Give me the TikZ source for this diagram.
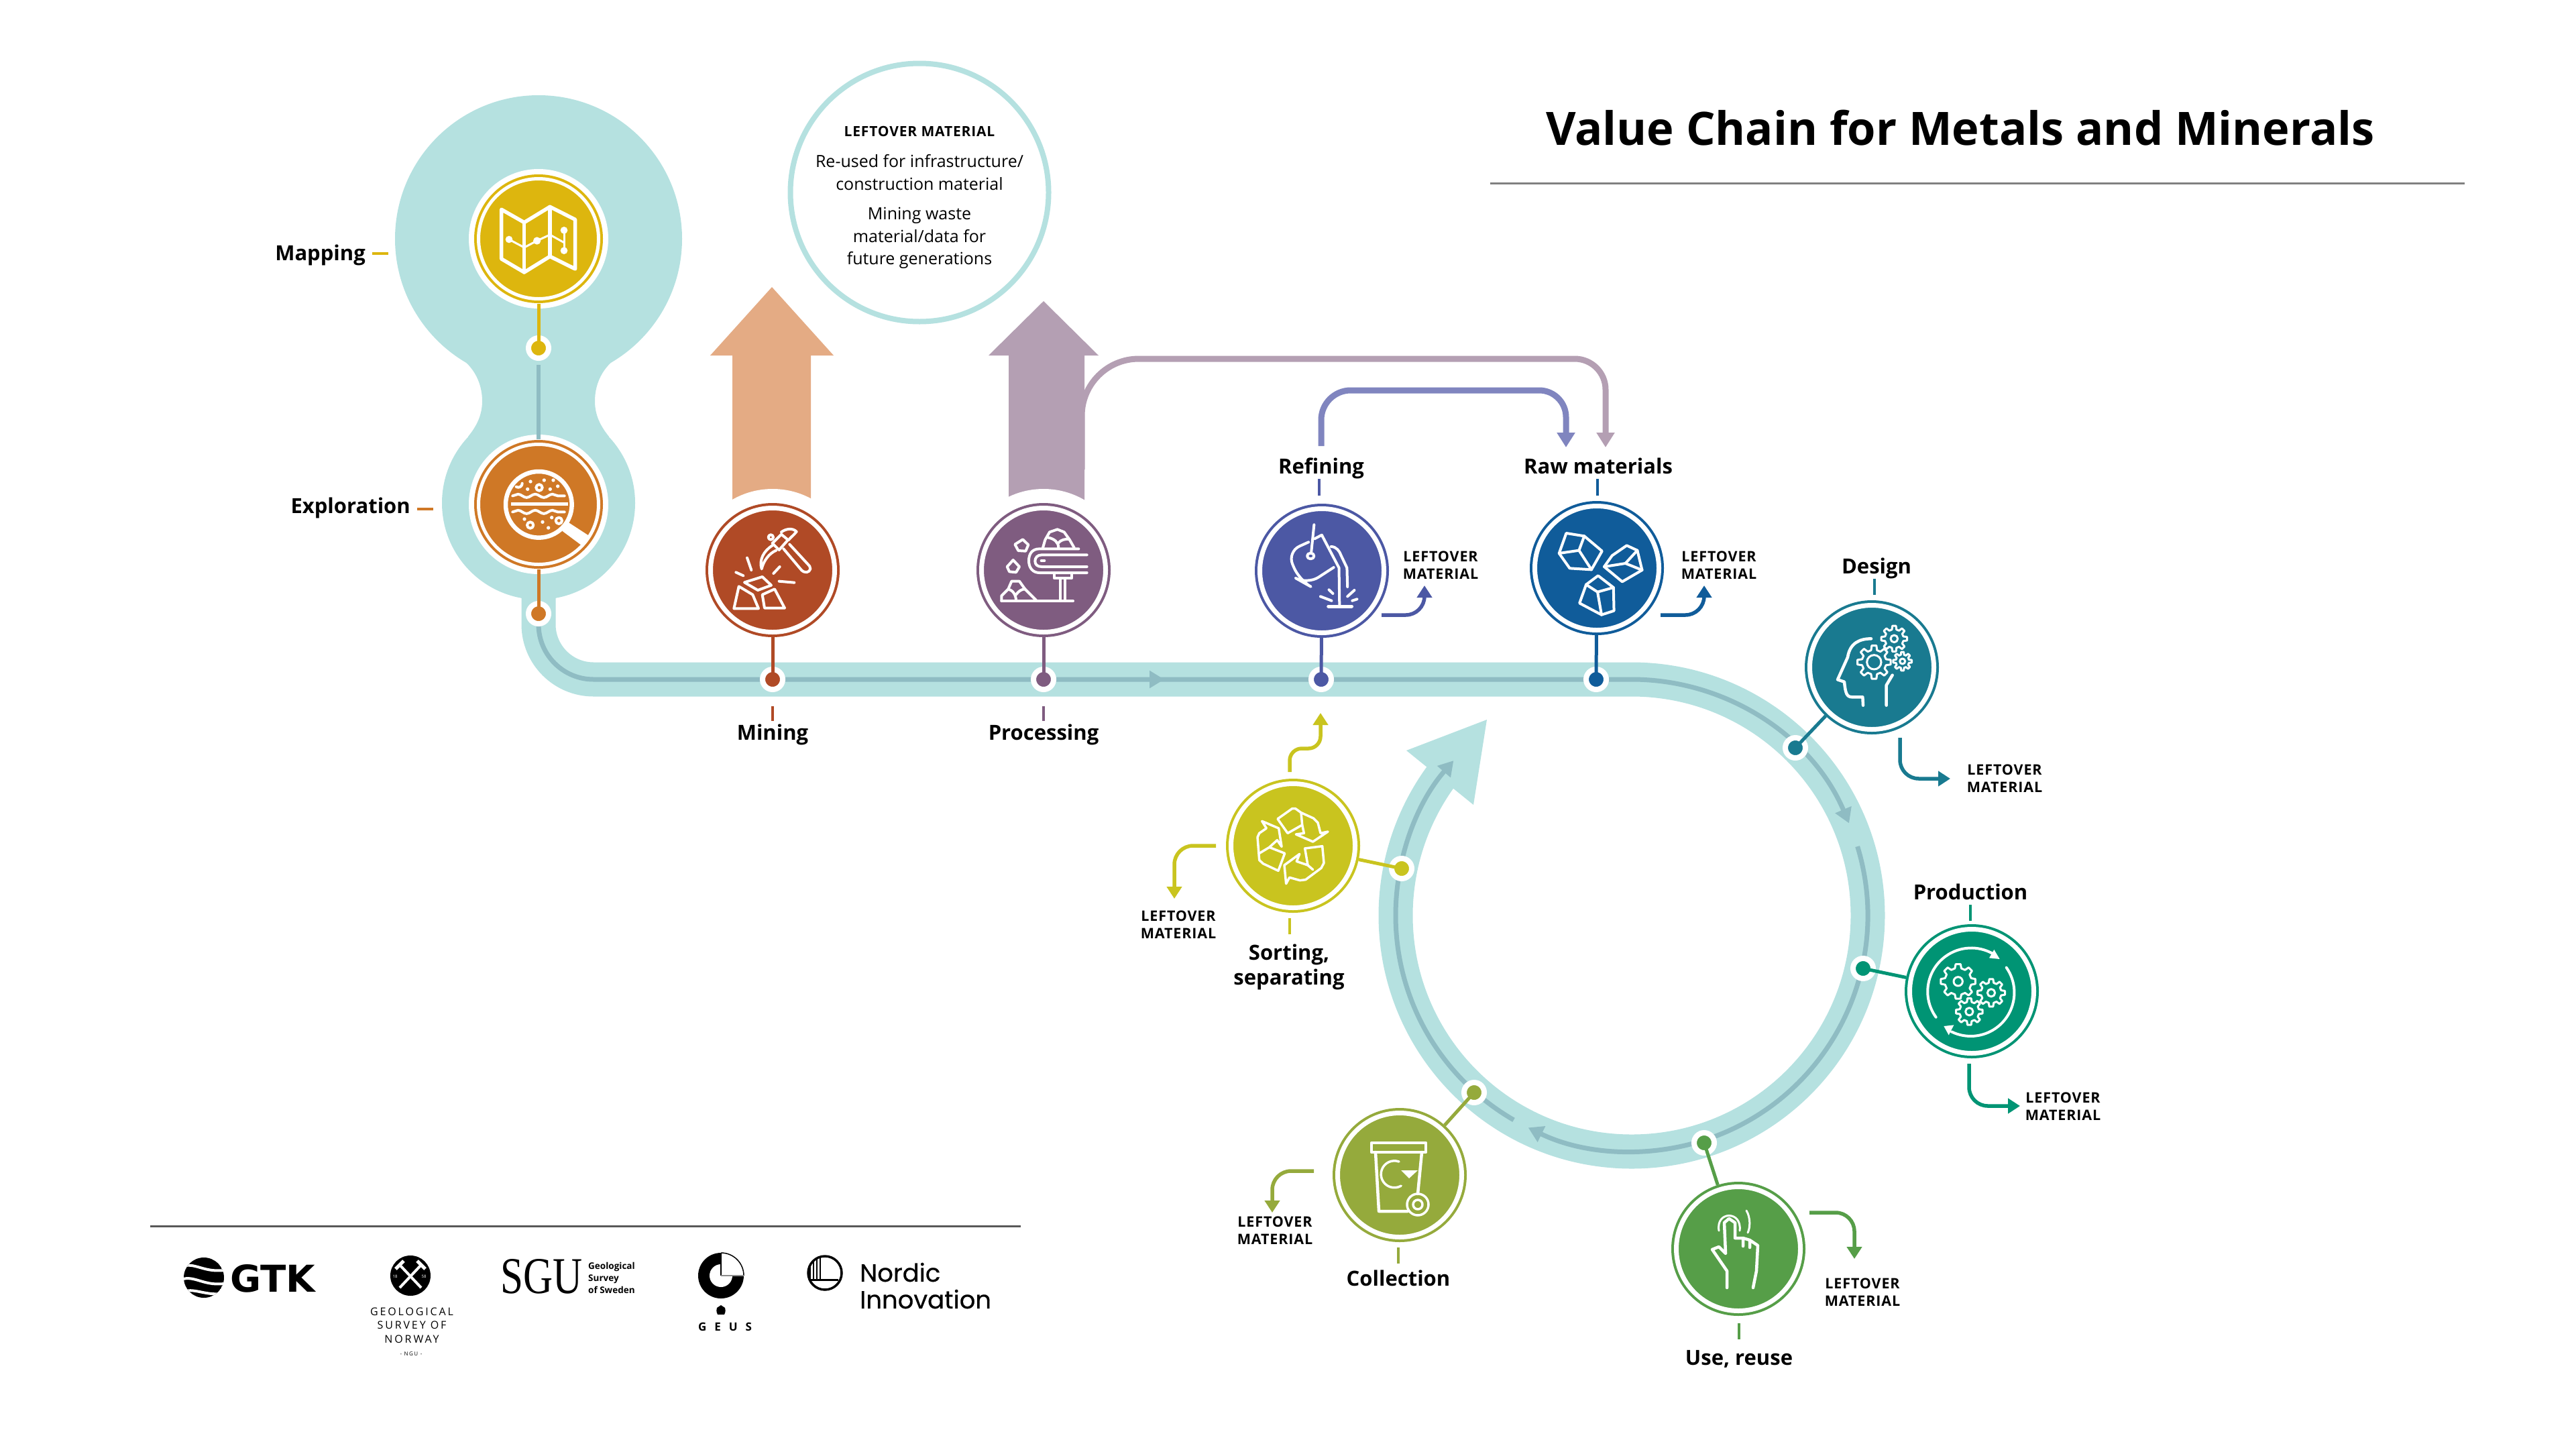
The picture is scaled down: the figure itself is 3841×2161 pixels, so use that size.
\documentclass[tikz,border=0pt]{standalone}
\usepackage{fontspec}
\setmainfont{Open Sans}
\newfontfamily\logofont[FakeBold=0.5]{Poppins}
\newfontfamily\serifont{Liberation Serif}
\newfontfamily\heavyfont{DejaVu Sans}
\newfontfamily\spacedfont[LetterSpace=4]{Open Sans}
\usetikzlibrary{arrows.meta}
\usetikzlibrary{decorations.pathmorphing}
\definecolor{bandcol}{HTML}{B5E1E0}
\definecolor{flowcol}{HTML}{8FBCC3}
\definecolor{mapcol}{HTML}{DDB60E}
\definecolor{explorecol}{HTML}{CF7826}
\definecolor{minecol}{HTML}{B04A26}
\definecolor{proccol}{HTML}{7F5C80}
\definecolor{refinecol}{HTML}{4C58A4}
\definecolor{rawcol}{HTML}{105C9A}
\definecolor{designcol}{HTML}{197A90}
\definecolor{prodcol}{HTML}{009474}
\definecolor{usecol}{HTML}{569E48}
\definecolor{collectcol}{HTML}{95AA3C}
\definecolor{sortcol}{HTML}{C9C41F}
\definecolor{minearrow}{HTML}{E4AB84}
\definecolor{procarrow}{HTML}{B49FB3}
\definecolor{refinearrow}{HTML}{8085BF}
\tikzset{
  stage/.style={circle,fill=#1,draw=#1,double=white,line width=4pt,double distance=7pt,minimum size=185pt,inner sep=0pt,outer sep=7.5pt},
  railstop/.style={circle,fill=#1,draw=white,line width=8pt,minimum size=30pt,inner sep=0pt,outer sep=0pt},
  link/.style={draw=#1,line width=5pt},
  tick/.style={draw=#1,line width=4pt},
  band/.style={draw=bandcol,line width=51pt},
  flowline/.style={draw=flowcol,line width=7pt},
  flowtip/.style={-{Triangle[length=22pt,width=25pt,fill=flowcol]}},
  stagelab/.style={font=\fontsize{31}{37}\selectfont\bfseries,text height=26.5pt,text depth=5.5pt,inner sep=0pt},
  leftlab/.style={font=\fontsize{21.5}{26}\selectfont\spacedfont\bfseries,align=center,inner sep=0pt},
  leftarrow/.style={draw=#1,line width=5.5pt,rounded corners=28pt,-{Triangle[length=18pt,width=22pt,fill=#1]}},
  feedback/.style={draw=#1,line width=9pt,-{Triangle[length=22pt,width=26pt,fill=#1]}},
  icon/.style 2 args={shift={(#1,#2)},scale=1/3,white,line width=3.5pt,line join=round,line cap=round},
}
\newcommand{\gearicon}[5]{
  \begin{scope}[shift={(#1,#2)}]
    \draw (8:#4) \foreach \a in {0,45,...,315} { -- (\a+8:#4) -- (\a+14:#3) -- (\a+31:#3) -- (\a+37:#4) } -- cycle;
    \draw (0,0) circle[radius=#5];
  \end{scope}
}
\begin{document}
\begin{tikzpicture}[x=1pt,y=-1pt]
\useasboundingbox (0,0) rectangle (3841,2161);

% big arrows
\fill[minearrow] (1151,428) -- (1243,530) -- (1209,530) -- (1209,770) -- (1092,770) -- (1092,530) -- (1059,530) -- cycle;
\fill[procarrow] (1556,449) -- (1638,530) -- (1617,530) -- (1617,770) -- (1504,770) -- (1504,530) -- (1474,530) -- cycle;
\fill[white] (1152,850) circle[radius=121];
\fill[white] (1556,850) circle[radius=121];

% the blob and the band
\fill[bandcol] (803,356) circle[radius=214];
\fill[bandcol] (803,750) circle[radius=144];
\fill[bandcol] (686,533) .. controls (712,552) and (719,578) .. (719,598) .. controls (719,620) and (710,636) .. (698,651)
  -- (908,651) .. controls (896,636) and (887,620) .. (887,598) .. controls (887,578) and (894,552) .. (920,533) -- cycle;
\draw[band] (803,880) -- (803,931) arc[start angle=180,end angle=90,radius=82] -- (2433,1013) arc[start angle=270,end angle=578,radius=352];
\fill[bandcol] (2217,1073) -- (2097,1119) -- (2197,1200) -- cycle;

% flow line
\draw[flowline,flowtip] (803,915) -- (803,931) arc[start angle=180,end angle=90,radius=82] -- (1736,1013);
\draw[flowline,flowtip] (1730,1013) -- (2433,1013) arc[start angle=270,end angle=337,radius=352];
\draw[flowline,flowtip] (2433,1365) ++(343:352) arc[start angle=343,end angle=476,radius=352];
\draw[flowline,flowtip] (2433,1365) ++(120:352) arc[start angle=120,end angle=221,radius=352];

\node[railstop=mapcol] (mappingstop) at (803,519) {};
\node[railstop=explorecol] (explorationstop) at (803,915) {};
\node[railstop=minecol] (miningstop) at (1152,1013) {};
\node[railstop=proccol] (processingstop) at (1556,1013) {};
\node[railstop=refinecol] (refiningstop) at (1970,1013) {};
\node[railstop=rawcol] (rawstop) at (2380,1013) {};
\node[railstop=designcol] (designstop) at (2677,1115) {};
\node[railstop=prodcol] (productionstop) at (2778,1444) {};
\node[railstop=usecol] (usestop) at (2541,1704) {};
\node[railstop=collectcol] (collectionstop) at (2198,1629) {};
\node[railstop=sortcol] (sortingstop) at (2090,1295) {};

% stages
\fill[white] (803,356) circle[radius=104];
\fill[white] (803,752) circle[radius=104];
\node[stage=mapcol,minimum size=179pt,double distance=5pt] (mapping) at (803,356) {};
\node[stage=explorecol,minimum size=179pt,double distance=5pt] (exploration) at (803,752) {};
\node[stage=minecol] (mining) at (1152,850) {};
\node[stage=proccol] (processing) at (1556,850) {};
\node[stage=refinecol] (refining) at (1971,851) {};
\node[stage=rawcol] (raw) at (2381,847) {};
\node[stage=designcol] (design) at (2791,995) {};
\node[stage=prodcol] (production) at (2940,1478) {};
\node[stage=usecol] (use) at (2592,1862) {};
\node[stage=collectcol] (collection) at (2087,1752) {};
\node[stage=sortcol] (sorting) at (1928,1261) {};

\draw[link=mapcol] (mapping) -- (mappingstop.center);
\draw[link=explorecol] (exploration) -- (explorationstop.center);
\draw[link=minecol] (mining) -- (miningstop.center);
\draw[link=proccol] (processing) -- (processingstop.center);
\draw[link=refinecol] (refining) -- (refiningstop.center);
\draw[link=rawcol] (raw) -- (rawstop.center);
\draw[link=designcol] (design) -- (designstop.center);
\draw[link=prodcol] (production) -- (productionstop.center);
\draw[link=usecol] (use) -- (usestop.center);
\draw[link=collectcol] (collection) -- (collectionstop.center);
\draw[link=sortcol] (sorting) -- (sortingstop.center);
\draw[flowline,line width=6pt,shorten <=10pt] (mappingstop) -- (exploration);

% labels and their ticks
\node[stagelab,anchor=east] (mappinglab) at (545,378) {Mapping};
\node[stagelab,anchor=east] (explorationlab) at (612,755) {Exploration};
\node[stagelab] (mininglab) at (1152,1092.5) {Mining};
\node[stagelab] (processinglab) at (1556,1092.5) {Processing};
\node[stagelab] (refininglab) at (1970,696) {Refining};
\node[stagelab] (rawlab) at (2383,696) {Raw materials};
\node[stagelab] (designlab) at (2798,845) {Design};
\node[stagelab] (productionlab) at (2938,1331) {Production};
\node[stagelab] (collectionlab) at (2085,1907) {Collection};
\node[stagelab] (uselab) at (2593,2025) {Use, reuse};
\node[font=\fontsize{31}{37}\selectfont\bfseries,anchor=north,align=center,inner sep=0pt] (sortinglab) at (1922,1408) {Sorting,\\separating};

\draw[tick=mapcol] (mappinglab.east) ++(10,0) -- ++(24,0);
\draw[tick=explorecol] (explorationlab.east) ++(10,4) -- ++(24,0);
\draw[tick=minecol] (mininglab.north) ++(0,-1.5) -- ++(0,-22);
\draw[tick=proccol] (processinglab.north) ++(0,-1.5) -- ++(0,-22);
\draw[tick=refinecol] (refininglab.south) ++(-3,2) -- ++(0,25);
\draw[tick=rawcol] (rawlab.south) ++(-1,2) -- ++(0,25);
\draw[tick=designcol] (designlab.south) ++(-3,2) -- ++(0,24);
\draw[tick=prodcol] (productionlab.south) ++(0,2) -- ++(0,24);
\draw[tick=sortcol] (sortinglab.north) ++(1,-15) -- ++(0,-24);
\draw[tick=collectcol] (collectionlab.north) ++(0,-7) -- ++(0,-24);
\draw[tick=usecol] (uselab.north) ++(0,-12) -- ++(0,-24);

% leftover material
\node[leftlab] (refiningleft) at (2148,843) {LEFTOVER\\MATERIAL};
\node[leftlab] (rawleft) at (2563,843) {LEFTOVER\\MATERIAL};
\node[leftlab] (designleft) at (2989,1161) {LEFTOVER\\MATERIAL};
\node[leftlab] (productionleft) at (3076,1650) {LEFTOVER\\MATERIAL};
\node[leftlab] (useleft) at (2777,1927) {LEFTOVER\\MATERIAL};
\node[leftlab] (collectionleft) at (1901,1835) {LEFTOVER\\MATERIAL};
\node[leftlab] (sortingleft) at (1757,1379) {LEFTOVER\\MATERIAL};

\coordinate (refiningout) at (2060,917);
\coordinate (refiningtip) at (2124,873);
\coordinate (rawout) at (2476,917);
\coordinate (rawtip) at (2541,873);
\coordinate (designout) at (2833,1100);
\coordinate (designtip) at (2908,1161);
\coordinate (productionout) at (2936,1586);
\coordinate (productiontip) at (3012,1649);
\coordinate (useout) at (2698,1808);
\coordinate (usetip) at (2765,1877);
\coordinate (collectionout) at (1959,1746);
\coordinate (collectiontip) at (1897,1808);
\coordinate (sortingout) at (1813,1261);
\coordinate (sortingtip) at (1751,1340);
\draw[leftarrow=refinecol] (refiningout) -| (refiningtip);
\draw[leftarrow=rawcol] (rawout) -| (rawtip);
\draw[leftarrow=designcol] (designout) |- (designtip);
\draw[leftarrow=prodcol] (productionout) |- (productiontip);
\draw[leftarrow=usecol] (useout) -| (usetip);
\draw[leftarrow=collectcol] (collectionout) -| (collectiontip);
\draw[leftarrow=sortcol] (sortingout) -| (sortingtip);
\draw[leftarrow=sortcol,rounded corners=18pt] (1923,1151) -- (1923,1116) -- (1969,1116) -- (1969,1063);

% feedback arrows
\coordinate (procout) at (1613,700);
\coordinate (refineout) at (1970,665);
\draw[feedback=procarrow] (procout) -- (1613,620) arc[start angle=180,end angle=270,radius=85] -- (2348,535) arc[start angle=270,end angle=360,radius=46] -- (2394,667);
\draw[feedback=refinearrow] (refineout) -- (1970,626) arc[start angle=180,end angle=270,radius=44] -- (2295,582) arc[start angle=270,end angle=360,radius=40] -- (2335,667);

% bubble
\node[circle,draw=bandcol,line width=8pt,minimum size=385pt,inner sep=0pt] (bubble) at (1371,287) {};
\node[font=\fontsize{25}{33.5}\selectfont,align=center,inner sep=0pt] (bubbletext) at (1371,294.5) {{\fontsize{21}{26}\selectfont\spacedfont\bfseries LEFTOVER MATERIAL}\\[13pt]Re-used for infrastructure/\\construction material\\[11pt]Mining waste\\material/data for\\future generations};

% title
\node[font=\fontsize{68.6}{80}\selectfont\bfseries,inner sep=0pt] (title) at (2923,191) {Value Chain for Metals and Minerals};
\draw[draw=black!50,line width=3pt] (2222,273) -- (3675,273);

% icons
\begin{scope}[icon={700}{250},line width=5.5pt]
  \draw (143,187) -- (245,245) -- (360,175) -- (473,232) -- (473,453) -- (360,397) -- (245,468) -- (143,408) -- cycle;
  \draw (245,245) -- (245,468) (360,175) -- (360,397);
  \draw[line width=3pt] (177,321) -- (245,357) -- (302,327) -- (360,300) -- (423,335);
  \draw[line width=3pt] (423,280) -- (423,371);
  \fill (177,321) circle[radius=16] (302,327) circle[radius=17] (423,280) circle[radius=16] (423,371) circle[radius=16];
\end{scope}

\begin{scope}[icon={700}{650},line width=6.5pt]
  \draw (310,307) circle[radius=148];
  \fill (440,385) -- (540,450) -- (505,492) -- (415,425) -- cycle;
  \draw[line width=4.5pt,line cap=butt] (187,305) -- (440,305);
  \draw[line width=4pt,decorate,decoration={snake,amplitude=2.5pt,segment length=25.7pt}] (193,268) -- (425,268);
  \draw[line width=4pt,decorate,decoration={snake,amplitude=2.5pt,segment length=25.7pt}] (193,340) -- (425,340);
  \fill (273,204) circle[radius=8] (260,238) circle[radius=8] (334,198) circle[radius=8] (361,238) circle[radius=8] (375,198) circle[radius=8] (395,225) circle[radius=8];
  \fill (246,372) circle[radius=8] (327,385) circle[radius=8] (368,365) circle[radius=8] (353,411) circle[radius=8];
  \draw[line width=4pt] (312,231) circle[radius=14] (272,399) circle[radius=14] (400,379) circle[radius=14];
  \draw[line width=4pt] (236,212) arc[start angle=0,end angle=120,radius=18];
\end{scope}

\begin{scope}[icon={1050}{750},line width=4pt]
  \draw (305,180) -- (345,140) -- (375,165) -- (335,210) -- cycle;
  \draw (305,190) .. controls (265,215) and (245,255) .. (257,295) .. controls (265,260) and (290,225) .. (322,212);
  \draw (345,130) .. controls (365,115) and (395,110) .. (413,128) .. controls (400,145) and (385,155) .. (378,165);
  \draw (298,153) circle[radius=11];
  \draw (355,205) -- (435,300) .. controls (450,315) and (470,312) .. (475,295) .. controls (475,285) and (470,280) .. (465,275) -- (382,185);
  \draw (192,245) -- (211,300) (142,310) -- (175,325) (338,285) -- (310,315) (335,350) -- (403,356);
  \draw (180,355) -- (260,330) -- (300,368) -- (240,390) -- cycle;
  \draw (155,373) -- (217,410) -- (243,472) -- (133,472) -- cycle;
  \draw (260,410) -- (315,385) -- (360,470) -- (270,470) -- cycle;
\end{scope}

\begin{scope}[icon={1450}{750},line width=4pt]
  \draw (475,205) -- (300,205) .. controls (265,205) and (252,230) .. (252,258) .. controls (252,290) and (270,312) .. (300,312) -- (512,312);
  \draw (512,232) -- (310,232) .. controls (290,232) and (280,245) .. (280,260) .. controls (280,275) and (290,285) .. (310,285) -- (512,285);
  \draw (308,258) -- (322,258);
  \draw (365,318) -- (365,335) -- (445,335) -- (445,318);
  \draw (392,338) -- (392,438) (415,338) -- (415,438);
  \draw (130,438) -- (450,438);
  \draw (315,200) -- (325,165) -- (345,130) -- (380,118) -- (410,130) -- (435,165) -- (455,200);
  \draw (340,155) .. controls (365,160) and (385,175) .. (385,200);
  \draw (385,178) .. controls (395,165) and (415,160) .. (432,162);
  \draw (130,438) -- (130,415) -- (160,385) -- (175,350) -- (210,350) -- (235,385) -- (285,435);
  \draw (160,385) .. controls (180,390) and (195,410) .. (195,438);
  \draw (195,410) .. controls (205,395) and (220,385) .. (235,385);
  \draw (190,185) -- (225,163) -- (250,187) -- (238,215) -- (205,213) -- cycle;
  \draw (155,285) -- (182,255) -- (210,285) -- (195,310) -- (165,307) -- cycle;
\end{scope}

\begin{scope}[icon={1870}{750},xscale=3/2.529,line width=4pt]
  \draw[rounded corners=20pt] (205,175) -- (125,218) -- (170,345) -- (200,365) -- (300,288);
  \draw (226,97) -- (215,225);
  \draw (213,237) circle[radius=13];
  \draw (228,160) -- (255,143) -- (320,290) -- (322,460);
  \draw (290,195) .. controls (310,195) and (322,215) .. (328,235) -- (350,290) -- (352,375);
  \draw[line width=5pt] (280,462) -- (368,462);
  \draw (282,388) -- (297,405) (250,418) -- (292,437) (378,390) -- (352,418) (388,430) -- (370,437);
  \draw (1177,135) -- (1245,148) -- (1312,215) -- (1272,298) -- (1190,292) -- (1150,225) -- cycle;
  \draw (1150,225) -- (1225,212) -- (1272,298) (1245,148) -- (1225,212);
  \draw (1405,190) -- (1445,212) -- (1463,300) -- (1388,352) -- (1320,285) -- (1350,235) -- cycle;
  \draw (1320,285) -- (1400,270) -- (1463,300) (1445,212) -- (1400,270);
  \draw (1297,325) -- (1355,378) -- (1357,482) -- (1310,500) -- (1227,448) -- (1252,365) -- cycle;
  \draw (1252,365) -- (1295,398) -- (1355,378) (1295,398) -- (1310,500);
\end{scope}

\begin{scope}[icon={2690}{890},line width=4.5pt]
  \draw (300,187) .. controls (250,187) and (205,205) .. (195,270) -- (150,370) -- (180,380) .. controls (185,430) and (190,448) .. (215,448) -- (262,448) -- (264,485);
  \draw (395,350) -- (368,395) -- (368,485);
  \begin{scope}[line width=3pt]
    \gearicon{313}{292}{55}{75}{32}
    \gearicon{403}{187}{42}{58}{16}
    \gearicon{440}{288}{30}{42}{12}
  \end{scope}
\end{scope}

\begin{scope}[icon={2835}{1375},line width=4pt]
  \begin{scope}[line width=3pt]
    \gearicon{254}{265}{60}{78}{20}
    \gearicon{402}{316}{46}{62}{17}
    \gearicon{304}{400}{44}{60}{17}
  \end{scope}
  \draw (155,425) arc[start angle=144,end angle=300,radius=195];
  \draw (470,203) arc[start angle=325,end angle=476,radius=195];
  \fill (440,165) -- (415,123) -- (393,160) -- cycle;
  \fill (190,465) -- (235,460) -- (212,505) -- cycle;
\end{scope}

\begin{scope}[icon={1825}{1155},line width=3.5pt]
  \draw (240,198) -- (305,152) -- (320,152) -- (345,170) -- (350,225) -- (285,262) -- cycle;
  \draw (345,170) -- (400,195) -- (420,215) -- (432,262) -- (465,255) -- (398,300) -- (322,267) -- (358,262) -- (350,225);
  \draw (170,208) -- (190,240) -- (158,262) -- (150,280) -- (158,382) -- (175,398) -- (243,430) -- (272,352) -- (203,325) -- (238,293) -- (258,322) -- (245,240) -- cycle;
  \draw (203,325) -- (158,352);
  \draw (278,488) -- (270,405) -- (338,355) -- (325,388) -- (375,405) -- (362,330) -- (440,320) -- (447,395) -- (435,418) -- (365,470) -- (340,473) -- (293,460) -- cycle;
  \draw (375,405) -- (398,425);
\end{scope}

\begin{scope}[white,line width=4.5pt,line join=round,line cap=round]
  % bin
  \draw (2045,1704) rectangle (2126,1718);
  \draw (2051,1718) -- (2056,1806) -- (2099,1806);
  \draw (2120,1718) -- (2114,1780);
  \draw[line width=3.5pt] (2114,1796) circle[radius=16] (2114,1796) circle[radius=7];
  \draw[line width=3.5pt] (2086,1732) arc[start angle=290,end angle=60,radius=20];
  \fill (2089,1745) -- (2114,1745) -- (2101,1757) -- cycle;
  % hand
  \draw (2575,1920) -- (2575,1895) -- (2553,1863) -- (2563,1859) -- (2573,1869) -- (2571,1823) -- (2578,1817) -- (2587,1823) -- (2587,1846) -- (2599,1846) -- (2599,1858) (2599,1846) -- (2609,1849) -- (2609,1860) (2609,1849) -- (2621,1857) -- (2619,1895) -- (2614,1920);
  \draw[line width=3pt] (2563,1835) .. controls (2558,1805) and (2598,1805) .. (2594,1835);
  \draw[line width=3pt] (2604,1805) .. controls (2610,1815) and (2610,1830) .. (2606,1838);
\end{scope}

% bottom rule and logos
\draw[draw=black!65,line width=3pt] (224,1828) -- (1522,1828);

\begin{scope}
  \clip (304,1905) circle[radius=30];
  \fill[black] (304,1905) circle[radius=30];
  \draw[white,line width=4pt] (270,1889) .. controls (290,1880) and (305,1900) .. (340,1893);
  \draw[white,line width=4pt] (270,1908) .. controls (290,1900) and (305,1920) .. (340,1913);
  \draw[white,line width=4pt] (270,1927) .. controls (290,1918) and (305,1934) .. (340,1928);
\end{scope}
\node[inner sep=0pt,anchor=west] (gtk) at (343,1906) {\resizebox{127pt}{41pt}{\heavyfont\bfseries GTK}};

\fill[black] (612,1902) circle[radius=30];
\draw[white,line width=4pt] (596,1886) -- (628,1920) (628,1886) -- (596,1920);
\draw[white,line width=5pt] (590,1892) -- (602,1880) (622,1880) -- (634,1892);
\node[white,font=\fontsize{6}{7}\selectfont,inner sep=0pt] (ngu18) at (589,1903) {18};
\node[white,font=\fontsize{6}{7}\selectfont,inner sep=0pt] (ngu58) at (632,1903) {58};
\node[inner sep=0pt,align=center,font=\fontsize{16}{20.5}\selectfont\addfontfeature{LetterSpace=18}] (ngutext) at (614,1976) {GEOLOGICAL\\SURVEY OF\\NORWAY};
\node[inner sep=0pt,font=\fontsize{8}{10}\selectfont\addfontfeature{LetterSpace=18}] (ngumark) at (613,2019) {- NGU -};

\node[inner sep=0pt,anchor=west] (sgu) at (746,1903.5) {\resizebox{122pt}{51pt}{\serifont SGU}};
\node[inner sep=0pt,anchor=west,align=left,font=\fontsize{13.5}{18}\selectfont\bfseries] (sgutext) at (877,1905) {Geological\\Survey\\of Sweden};

\fill[black] (1075,1902) circle[radius=34];
\fill[white] (1075,1902) -- (1075,1866) arc[start angle=270,end angle=360,radius=36] -- cycle;
\fill[white] (1075,1902) circle[radius=17];
\draw[black,line width=1.5pt] (1075,1868) arc[start angle=270,end angle=360,radius=34];
\draw[black,line width=1.5pt] (1075,1868) -- (1075,1902);
\draw[black!45,line width=2pt] (1075,1902) -- (1109,1902);
\fill[black] (1069,1950) .. controls (1067,1956) and (1070,1959) .. (1070,1960) -- (1080,1960) .. controls (1080,1959) and (1083,1956) .. (1081,1950) -- (1075,1946) -- cycle;
\node[inner sep=0pt,font=\fontsize{17}{20}\selectfont\bfseries\addfontfeature{LetterSpace=70}] (geus) at (1081,1978) {GEUS};

\begin{scope}
  \clip (1230,1898) circle[radius=26];
  \draw[black,line width=1.5pt] (1208,1908) -- (1208,1875) (1213,1908) -- (1213,1870) (1218,1908) -- (1218,1872) (1223,1908) -- (1223,1875);
  \draw[black,line width=3pt] (1204,1908) -- (1250,1908);
\end{scope}
\draw[black,line width=3.5pt] (1230,1898) circle[radius=25];
\node[inner sep=0pt,anchor=west,align=left,font=\fontsize{37}{40}\selectfont\logofont] (nordic) at (1282,1917) {Nordic\\Innovation};

\end{tikzpicture}
\end{document}
